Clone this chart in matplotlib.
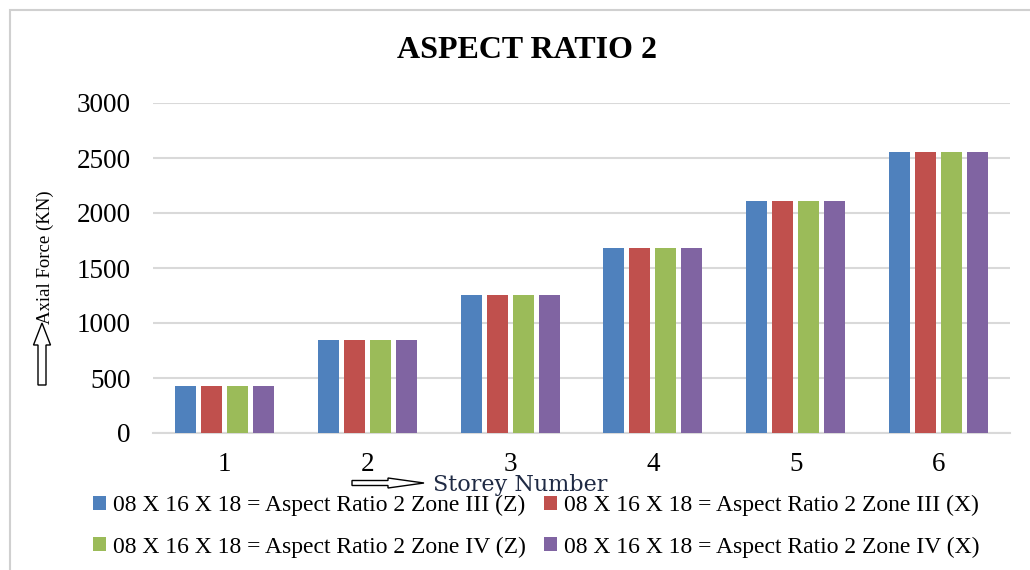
# Axial force vs storey number, aspect ratio 2

import numpy as np
import matplotlib
matplotlib.use('Agg')
import matplotlib.pyplot as plt
import matplotlib.patches as mpatches
from matplotlib.transforms import IdentityTransform

storeys = ['1', '2', '3', '4', '5', '6']
zone3_z = [424, 842, 1257, 1682, 2112, 2551]
zone3_x = [424, 842, 1257, 1682, 2112, 2551]
zone4_z = [424, 842, 1257, 1682, 2112, 2551]
zone4_x = [424, 842, 1257, 1682, 2112, 2551]
labels = ['08 X 16 X 18 = Aspect Ratio 2 Zone III (Z)',
          '08 X 16 X 18 = Aspect Ratio 2 Zone III (X)',
          '08 X 16 X 18 = Aspect Ratio 2 Zone IV (Z)',
          '08 X 16 X 18 = Aspect Ratio 2 Zone IV (X)']
colors = ['#4F81BD', '#C0504D', '#9BBB59', '#8064A2']

plt.rcParams['font.family'] = ['Liberation Serif', 'DejaVu Serif']

W, H = 1030, 570
fig = plt.figure(figsize=(W / 100, H / 100), dpi=100)
ax = fig.add_axes([153 / W, 1 - 433 / H, (1010 - 153) / W, (433 - 103) / H])

x = np.arange(1, len(storeys) + 1)
series = [zone3_z, zone3_x, zone4_z, zone4_x]
step = 0.182
handles = []
for i, (vals, c) in enumerate(zip(series, colors)):
    b = ax.bar(x + (i - 1.5) * step, vals, width=0.148, color=c, zorder=3)
    handles.append(b)

ax.set_xlim(0.5, 6.5)
ax.set_ylim(0, 3000)
ax.set_yticks(range(0, 3001, 500))
ax.set_xticks(x)
ax.set_xticklabels(storeys)
ax.grid(axis='y', color='#D9D9D9', linewidth=1.5, zorder=0)
for s in ['top', 'right', 'left']:
    ax.spines[s].set_visible(False)
ax.spines['bottom'].set_color('#D9D9D9')
ax.spines['bottom'].set_linewidth(1.5)
ax.tick_params(length=0, labelsize=19.5)
ax.tick_params(axis='y', pad=16)
ax.tick_params(axis='x', pad=14)

fig.text(527 / W, 1 - 50 / H, 'ASPECT RATIO 2', ha='center', va='center',
         fontsize=23, fontweight='bold')

# outer chart border
fig.add_artist(mpatches.Rectangle((10, -5), 1100, H - 5, fill=False,
                                  edgecolor='#D0D0D0', linewidth=1.5,
                                  transform=IdentityTransform()))

# y axis label with hollow arrow
fig.text(45 / W, 1 - 257 / H, 'Axial Force (KN)', rotation=90, ha='center',
         va='center', fontsize=13.5)
fig.add_artist(mpatches.FancyArrow(42, H - 385, 0, 62, width=8, head_width=17,
                                   head_length=22, fill=False, edgecolor='black',
                                   linewidth=1, length_includes_head=True,
                                   transform=IdentityTransform()))

# x axis label with hollow arrow
fig.text(433 / W, 1 - 485 / H, 'Storey Number', ha='left', va='center',
         fontsize=16, family='DejaVu Serif', color='#1F2A44')
fig.add_artist(mpatches.FancyArrow(352, H - 483, 72, 0, width=5, head_width=10,
                                   head_length=36, fill=False, edgecolor='black',
                                   linewidth=1, length_includes_head=True,
                                   transform=IdentityTransform()))

# row-major order like the original legend
order = [0, 2, 1, 3]
fig.legend([handles[i] for i in order], [labels[i] for i in order], ncol=2,
           loc='upper left', bbox_to_anchor=(72 / W, 1 - 474 / H),
           frameon=False, fontsize=17, handlelength=0.55, handleheight=0.55,
           handletextpad=0.3, columnspacing=0.75, labelspacing=0.85)

plt.savefig('out.png', dpi=100)
